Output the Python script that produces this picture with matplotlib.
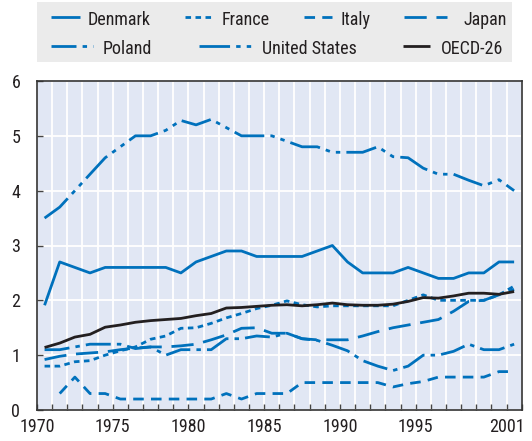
import numpy as np
import matplotlib
matplotlib.use("Agg")
import matplotlib.pyplot as plt
from matplotlib import font_manager
from matplotlib.lines import Line2D
from matplotlib.patches import Rectangle

years = list(range(1970, 2002))

denmark = [1.91, 2.70, 2.60, 2.50, 2.60, 2.60, 2.60, 2.60, 2.60, 2.50, 2.70, 2.80, 2.90, 2.90, 2.80, 2.80,
           2.80, 2.80, 2.90, 3.00, 2.70, 2.50, 2.50, 2.50, 2.60, 2.50, 2.40, 2.40, 2.50, 2.50, 2.70, 2.70]
france = [0.80, 0.80, 0.88, 0.90, 1.00, 1.08, 1.15, 1.29, 1.35, 1.49, 1.50, 1.58, 1.68, 1.76, 1.85, 1.91,
          1.99, 1.92, 1.88, 1.90, 1.90, 1.90, 1.90, 1.90, 2.00, 2.10, 2.00, 2.00, 2.00, 2.00, 2.10, 2.26]
italy = [np.nan, 0.30, 0.60, 0.30, 0.30, 0.20, 0.20, 0.20, 0.20, 0.20, 0.20, 0.20, 0.30, 0.20, 0.30, 0.30,
         0.30, 0.50, 0.50, 0.50, 0.50, 0.50, 0.50, 0.42, 0.48, 0.52, 0.60, 0.60, 0.60, 0.60, 0.70, 0.70]
japan = [0.92, 0.98, 1.02, 1.04, 1.06, 1.10, 1.13, 1.15, 1.15, 1.17, 1.20, 1.28, 1.37, 1.49, 1.50, 1.40,
         1.40, 1.30, 1.28, 1.28, 1.28, 1.35, 1.43, 1.50, 1.55, 1.60, 1.65, 1.80, 1.98, 2.00, 2.10, 2.20]
poland = [1.10, 1.10, 1.15, 1.20, 1.20, 1.20, 1.12, 1.15, 1.00, 1.10, 1.10, 1.10, 1.30, 1.30, 1.35, 1.33,
          1.40, 1.30, 1.27, 1.18, 1.08, 0.90, 0.80, 0.72, 0.80, 1.00, 1.00, 1.07, 1.20, 1.10, 1.10, 1.20]
united_states = [3.50, 3.70, 4.00, 4.30, 4.60, 4.80, 5.00, 5.00, 5.10, 5.28, 5.20, 5.30, 5.15, 5.00, 5.00, 5.00,
                 4.90, 4.80, 4.80, 4.70, 4.70, 4.70, 4.80, 4.62, 4.60, 4.41, 4.30, 4.30, 4.19, 4.09, 4.20, 4.00]
oecd26 = [1.14, 1.22, 1.33, 1.38, 1.51, 1.55, 1.60, 1.63, 1.65, 1.67, 1.72, 1.76, 1.86, 1.87, 1.89, 1.91,
          1.92, 1.90, 1.92, 1.95, 1.92, 1.91, 1.91, 1.93, 1.98, 2.05, 2.04, 2.08, 2.13, 2.13, 2.11, 2.16]

series_names = ["Denmark", "France", "Italy", "Japan", "Poland", "United States", "OECD-26"]
tick_years = [1970, 1975, 1980, 1985, 1990, 1995, 2001]
y_ticks = [0, 1, 2, 3, 4, 5, 6]

# font: prefer a narrow / condensed sans if one is installed
fam, stretch = "Liberation Sans", "normal"
entries = font_manager.fontManager.ttflist
found = False
for pref in ["Liberation Sans Narrow", "Arial Narrow", "Roboto Condensed", "Open Sans Condensed",
             "Noto Sans Condensed"]:
    for f in entries:
        if f.name == pref and f.weight in (400, "normal", "regular") and f.style == "normal":
            fam, stretch, found = f.name, f.stretch, True
            break
    if found:
        break
if not found:
    for base in ["Liberation Sans", "Noto Sans", "Roboto", "Open Sans", "DejaVu Sans"]:
        for f in entries:
            if f.name == base and str(f.stretch) in ("condensed", "semi-condensed", "extra-condensed", "75", "87.5") \
                    and f.style == "normal" and f.weight in (400, "normal", "regular"):
                fam, stretch, found = f.name, f.stretch, True
                break
        if found:
            break
plt.rcParams["font.family"] = [fam, "DejaVu Sans"]
plt.rcParams["font.stretch"] = stretch
FS = 13 if found else 12.2

BLUE = "#0071bc"
BLACK = "#231f20"
W, H = 532, 441

fig = plt.figure(figsize=(W / 100, H / 100), dpi=100)
ax = fig.add_axes([37 / W, 1 - 410 / H, (521.7 - 37) / W, (410 - 81) / H])
ax.set_facecolor("#e1e7f4")

x = np.array(years) + 0.5
lw = 2.0
styles = [
    (denmark, "-", BLUE),
    (france, (0, (2.0, 1.6)), BLUE),
    (italy, (0, (3.8, 2.6)), BLUE),
    (japan, (0, (8, 3.5)), BLUE),
    (poland, (0, (9, 2.2, 1.6, 2.2)), BLUE),
    (united_states, (0, (11, 2.2, 1.6, 2.2, 1.6, 2.2)), BLUE),
    (oecd26, "-", BLACK),
]
for (vals, ls, c), name in zip(styles, series_names):
    ax.plot(x, vals, linestyle=ls, color=c, lw=lw, label=name, solid_capstyle="butt",
            dash_capstyle="butt", zorder=3)

ax.set_xlim(1970, 2002)
ax.set_ylim(0, 6)
ax.set_xticks(range(1970, 2003))
ax.set_xticklabels([str(yy) if yy in tick_years else "" for yy in range(1970, 2003)])
ax.set_yticks(y_ticks)
ax.set_yticklabels([str(v) for v in y_ticks])
ax.grid(True, color="white", lw=1.3, zorder=1)
ax.set_axisbelow(True)
ax.tick_params(axis="both", direction="in", length=4, width=1, color="#444444",
               labelsize=FS, labelcolor="#231f20")
ax.tick_params(axis="x", pad=6)
ax.tick_params(axis="y", pad=12)
for s in ax.spines.values():
    s.set_color("#333333")
    s.set_linewidth(1.2)

# legend box (layout in pixels): gray panel with two rows of entries
fig.patches.append(Rectangle((37 / W, 1 - 62 / H), (512 - 37) / W, 60 / H,
                             transform=fig.transFigure, facecolor="#ebebeb",
                             edgecolor="none", zorder=0))
# (handle start, handle end, text start, handle y, text baseline) per series
legend_layout = [
    (51, 80, 88, 17, 25),
    (185, 212, 222, 17, 25),
    (304, 332, 341, 17, 25),
    (404, 447, 463, 17, 25),
    (51, 93, 103, 46, 54),
    (199, 251, 262, 46, 54),
    (403, 430, 441, 46, 54),
]
for (vals, ls, c), name, (x0, x1, xt, yh, yb) in zip(styles, series_names, legend_layout):
    fig.add_artist(Line2D([x0 / W, x1 / W], [1 - yh / H, 1 - yh / H], transform=fig.transFigure,
                          linestyle=ls, color=c, lw=lw, solid_capstyle="butt", dash_capstyle="butt"))
    fig.text(xt / W, 1 - yb / H, name, fontsize=FS, color="#231f20", ha="left", va="baseline")

fig.savefig("out.png", dpi=100)
